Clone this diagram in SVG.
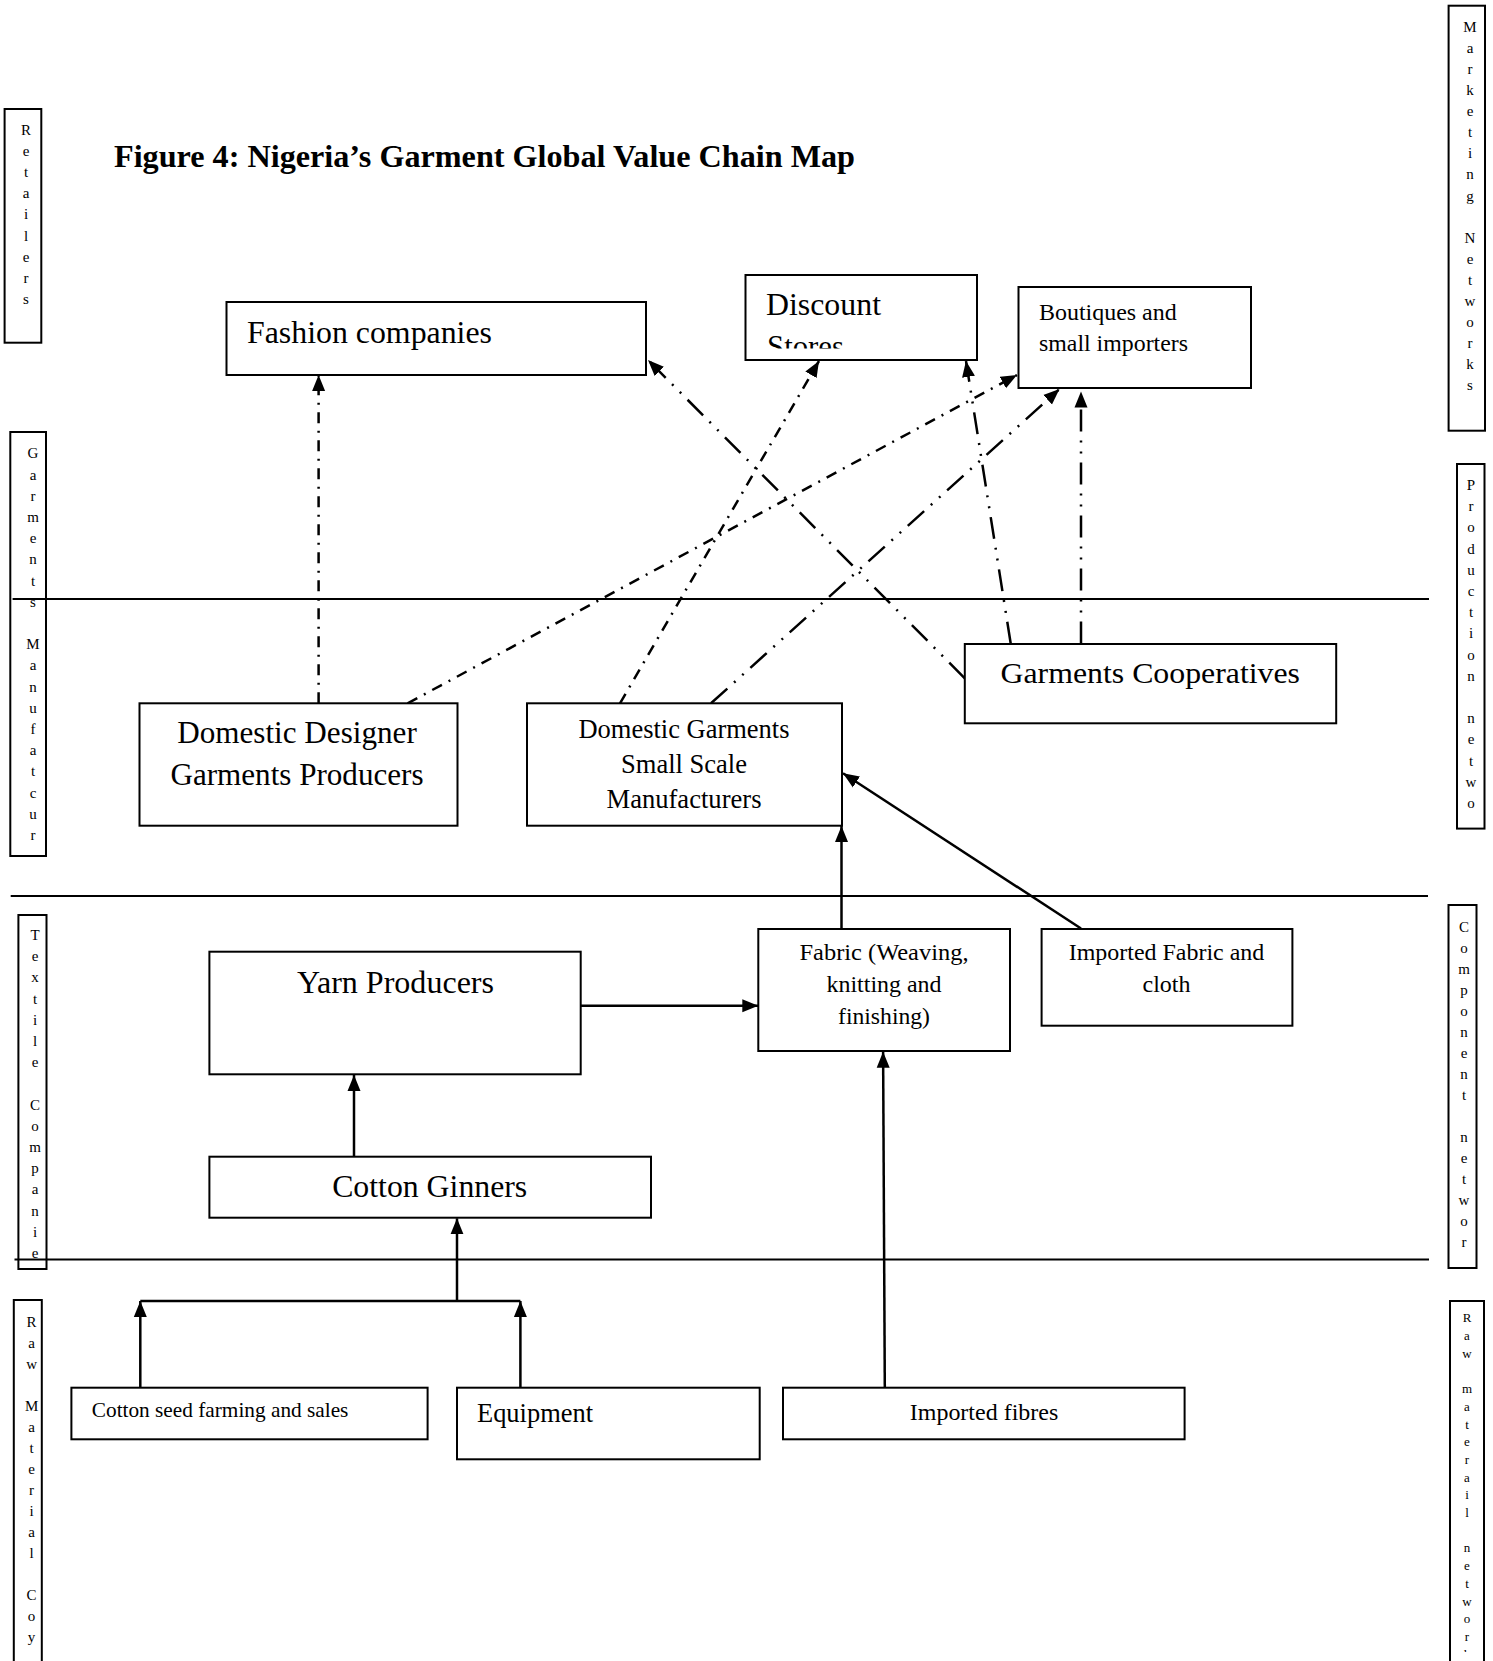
<svg xmlns="http://www.w3.org/2000/svg" width="1493" height="1661" viewBox="0 0 1493 1661">
<style>
text{font-family:"Liberation Serif","Times New Roman",serif;fill:#000}
.box{fill:#fff;stroke:#000;stroke-width:2}
.side{fill:none;stroke:#000;stroke-width:2}
.v{font-size:15px;text-anchor:middle}
.sep{stroke:#000;stroke-width:1.8;fill:none}
.solid{stroke:#000;stroke-width:2.5;fill:none;marker-end:url(#ah)}
.plain{stroke:#000;stroke-width:2.5;fill:none}
.da{stroke:#000;stroke-width:2.5;fill:none;stroke-dasharray:11 7.5 2 7.5;marker-end:url(#ah)}
.ddd{stroke:#000;stroke-width:2.5;fill:none;stroke-dasharray:22 9 2 9 2 9;marker-end:url(#ah)}
.c{text-anchor:middle}
</style>
<defs>
<marker id="ah" markerUnits="userSpaceOnUse" markerWidth="17" markerHeight="15" viewBox="0 0 17 15" refX="16" refY="7.5" orient="auto">
<path d="M0,1 L16,7.5 L0,14 z" fill="#000"/>
</marker>
<clipPath id="clipDiscount"><rect x="746" y="276" width="230" height="72.5"/></clipPath>
<clipPath id="clipRawNet"><rect x="1440" y="1300" width="60" height="352"/></clipPath>
</defs>
<rect x="0" y="0" width="1493" height="1661" fill="#fff"/>

<g id="title">
<text x="114" y="167" font-size="32" font-weight="bold" textLength="741" lengthAdjust="spacingAndGlyphs">Figure 4: Nigeria’s Garment Global Value Chain Map</text>
</g>

<g id="separators">
<line class="sep" x1="12.6" y1="599" x2="1429" y2="599"/>
<line class="sep" x1="10.7" y1="896" x2="1428" y2="896"/>
<line class="sep" x1="14.5" y1="1259.5" x2="1429" y2="1259.5"/>
</g>

<g id="label-retailers">
<rect class="side" x="4.6" y="109" width="36.7" height="233.7"/>
<text class="v"><tspan x="26" y="135">R</tspan><tspan x="26" dy="21.1">e</tspan><tspan x="26" dy="21.1">t</tspan><tspan x="26" dy="21.1">a</tspan><tspan x="26" dy="21.1">i</tspan><tspan x="26" dy="21.1">l</tspan><tspan x="26" dy="21.1">e</tspan><tspan x="26" dy="21.1">r</tspan><tspan x="26" dy="21.1">s</tspan></text>
</g>

<g id="label-garments-manufacturer">
<rect class="side" x="10.3" y="432" width="35.7" height="424"/>
<text class="v"><tspan x="33" y="458.3">G</tspan><tspan x="33" dy="21.2">a</tspan><tspan x="33" dy="21.2">r</tspan><tspan x="33" dy="21.2">m</tspan><tspan x="33" dy="21.2">e</tspan><tspan x="33" dy="21.2">n</tspan><tspan x="33" dy="21.2">t</tspan><tspan x="33" dy="21.2">s</tspan><tspan x="33" dy="42.4">M</tspan><tspan x="33" dy="21.2">a</tspan><tspan x="33" dy="21.2">n</tspan><tspan x="33" dy="21.2">u</tspan><tspan x="33" dy="21.2">f</tspan><tspan x="33" dy="21.2">a</tspan><tspan x="33" dy="21.2">t</tspan><tspan x="33" dy="21.2">c</tspan><tspan x="33" dy="21.2">u</tspan><tspan x="33" dy="21.2">r</tspan></text>
</g>

<g id="label-textile">
<rect class="side" x="18.4" y="915" width="28.1" height="354"/>
<text class="v"><tspan x="35" y="940">T</tspan><tspan x="35" dy="21.2">e</tspan><tspan x="35" dy="21.2">x</tspan><tspan x="35" dy="21.2">t</tspan><tspan x="35" dy="21.2">i</tspan><tspan x="35" dy="21.2">l</tspan><tspan x="35" dy="21.2">e</tspan><tspan x="35" dy="42.4">C</tspan><tspan x="35" dy="21.2">o</tspan><tspan x="35" dy="21.2">m</tspan><tspan x="35" dy="21.2">p</tspan><tspan x="35" dy="21.2">a</tspan><tspan x="35" dy="21.2">n</tspan><tspan x="35" dy="21.2">i</tspan><tspan x="35" dy="21.2">e</tspan></text>
</g>

<g id="label-raw-coy">
<rect class="side" x="13.8" y="1300" width="28" height="380"/>
<text class="v"><tspan x="31.6" y="1326.7">R</tspan><tspan x="31.6" dy="21">a</tspan><tspan x="31.6" dy="21">w</tspan><tspan x="31.6" dy="42">M</tspan><tspan x="31.6" dy="21">a</tspan><tspan x="31.6" dy="21">t</tspan><tspan x="31.6" dy="21">e</tspan><tspan x="31.6" dy="21">r</tspan><tspan x="31.6" dy="21">i</tspan><tspan x="31.6" dy="21">a</tspan><tspan x="31.6" dy="21">l</tspan><tspan x="31.6" dy="42">C</tspan><tspan x="31.6" dy="21">o</tspan><tspan x="31.6" dy="21">y</tspan></text>
</g>

<g id="label-marketing">
<rect class="side" x="1448.6" y="5.7" width="36.4" height="425"/>
<text class="v"><tspan x="1470" y="31.7">M</tspan><tspan x="1470" dy="21.1">a</tspan><tspan x="1470" dy="21.1">r</tspan><tspan x="1470" dy="21.1">k</tspan><tspan x="1470" dy="21.1">e</tspan><tspan x="1470" dy="21.1">t</tspan><tspan x="1470" dy="21.1">i</tspan><tspan x="1470" dy="21.1">n</tspan><tspan x="1470" dy="21.1">g</tspan><tspan x="1470" dy="42.2">N</tspan><tspan x="1470" dy="21.1">e</tspan><tspan x="1470" dy="21.1">t</tspan><tspan x="1470" dy="21.1">w</tspan><tspan x="1470" dy="21.1">o</tspan><tspan x="1470" dy="21.1">r</tspan><tspan x="1470" dy="21.1">k</tspan><tspan x="1470" dy="21.1">s</tspan></text>
</g>

<g id="label-production">
<rect class="side" x="1457" y="464" width="27.5" height="364.6"/>
<text class="v"><tspan x="1471" y="490">P</tspan><tspan x="1471" dy="21.2">r</tspan><tspan x="1471" dy="21.2">o</tspan><tspan x="1471" dy="21.2">d</tspan><tspan x="1471" dy="21.2">u</tspan><tspan x="1471" dy="21.2">c</tspan><tspan x="1471" dy="21.2">t</tspan><tspan x="1471" dy="21.2">i</tspan><tspan x="1471" dy="21.2">o</tspan><tspan x="1471" dy="21.2">n</tspan><tspan x="1471" dy="42.4">n</tspan><tspan x="1471" dy="21.2">e</tspan><tspan x="1471" dy="21.2">t</tspan><tspan x="1471" dy="21.2">w</tspan><tspan x="1471" dy="21.2">o</tspan></text>
</g>

<g id="label-component">
<rect class="side" x="1448.5" y="905" width="28" height="363"/>
<text class="v"><tspan x="1464" y="931.7">C</tspan><tspan x="1464" dy="21">o</tspan><tspan x="1464" dy="21">m</tspan><tspan x="1464" dy="21">p</tspan><tspan x="1464" dy="21">o</tspan><tspan x="1464" dy="21">n</tspan><tspan x="1464" dy="21">e</tspan><tspan x="1464" dy="21">n</tspan><tspan x="1464" dy="21">t</tspan><tspan x="1464" dy="42">n</tspan><tspan x="1464" dy="21">e</tspan><tspan x="1464" dy="21">t</tspan><tspan x="1464" dy="21">w</tspan><tspan x="1464" dy="21">o</tspan><tspan x="1464" dy="21">r</tspan></text>
</g>

<g id="label-raw-network">
<rect class="side" x="1450" y="1301" width="34" height="380"/>
<text class="v" style="font-size:13px" clip-path="url(#clipRawNet)"><tspan x="1467" y="1322.3">R</tspan><tspan x="1467" dy="17.7">a</tspan><tspan x="1467" dy="17.7">w</tspan><tspan x="1467" dy="35.4">m</tspan><tspan x="1467" dy="17.7">a</tspan><tspan x="1467" dy="17.7">t</tspan><tspan x="1467" dy="17.7">e</tspan><tspan x="1467" dy="17.7">r</tspan><tspan x="1467" dy="17.7">a</tspan><tspan x="1467" dy="17.7">i</tspan><tspan x="1467" dy="17.7">l</tspan><tspan x="1467" dy="35.4">n</tspan><tspan x="1467" dy="17.7">e</tspan><tspan x="1467" dy="17.7">t</tspan><tspan x="1467" dy="17.7">w</tspan><tspan x="1467" dy="17.7">o</tspan><tspan x="1467" dy="17.7">r</tspan><tspan x="1467" dy="17.7">k</tspan></text>
</g>

<g id="connectors">
<line class="da" x1="318.6" y1="703.3" x2="318.6" y2="375"/>
<line class="ddd" x1="964.8" y1="678.3" x2="648" y2="360"/>
<line class="da" x1="620" y1="703.3" x2="819" y2="361"/>
<line class="da" x1="407.6" y1="703.3" x2="1017" y2="375"/>
<line class="ddd" x1="711" y1="703.3" x2="1059.5" y2="389"/>
<line class="ddd" x1="1010.7" y1="643.5" x2="966" y2="361"/>
<line class="ddd" x1="1081" y1="643.5" x2="1081" y2="391.5"/>
<line class="solid" x1="841.5" y1="929" x2="841.5" y2="826"/>
<line class="solid" x1="1081" y1="928.5" x2="843" y2="773.3"/>
<line class="solid" x1="580.7" y1="1005.7" x2="758.3" y2="1005.7"/>
<line class="solid" x1="354" y1="1156.7" x2="354" y2="1075"/>
<line class="solid" x1="457" y1="1301" x2="457" y2="1218.3"/>
<line class="plain" x1="140.3" y1="1301" x2="520.4" y2="1301"/>
<line class="solid" x1="140.3" y1="1387.7" x2="140.3" y2="1301"/>
<line class="solid" x1="520.4" y1="1387.7" x2="520.4" y2="1301"/>
<line class="solid" x1="884.8" y1="1387.7" x2="883.1" y2="1051.7"/>
</g>

<g id="node-fashion">
<rect class="box" x="226.5" y="302" width="419.5" height="73"/>
<text x="247" y="342.5" font-size="31.5" textLength="245" lengthAdjust="spacingAndGlyphs">Fashion companies</text>
</g>

<g id="node-discount">
<rect class="box" x="745.5" y="275" width="231.5" height="85"/>
<g clip-path="url(#clipDiscount)">
<text x="766" y="315" font-size="31.5" textLength="115" lengthAdjust="spacingAndGlyphs">Discount</text>
<text x="767" y="357" font-size="31.5" textLength="77" lengthAdjust="spacingAndGlyphs">Stores</text>
</g>
</g>

<g id="node-boutiques">
<rect class="box" x="1018.5" y="287" width="232.5" height="101"/>
<text x="1039" y="320" font-size="24" textLength="137.7" lengthAdjust="spacingAndGlyphs">Boutiques and</text>
<text x="1039" y="350.7" font-size="24" textLength="149" lengthAdjust="spacingAndGlyphs">small importers</text>
</g>

<g id="node-designer">
<rect class="box" x="139.5" y="703.3" width="318" height="122.4"/>
<text class="c" x="297" y="742.7" font-size="31" textLength="239.5" lengthAdjust="spacingAndGlyphs">Domestic Designer</text>
<text class="c" x="297" y="785" font-size="31" textLength="253" lengthAdjust="spacingAndGlyphs">Garments Producers</text>
</g>

<g id="node-small-scale">
<rect class="box" x="527" y="703.3" width="315" height="122.4"/>
<text class="c" x="684" y="738.3" font-size="26.5" textLength="211" lengthAdjust="spacingAndGlyphs">Domestic Garments</text>
<text class="c" x="684" y="773.3" font-size="26.5" textLength="126" lengthAdjust="spacingAndGlyphs">Small Scale</text>
<text class="c" x="684" y="808.3" font-size="26.5" textLength="155" lengthAdjust="spacingAndGlyphs">Manufacturers</text>
</g>

<g id="node-cooperatives">
<rect class="box" x="964.8" y="644" width="371.4" height="79.3"/>
<text x="1000.5" y="683.3" font-size="30.3" textLength="299.5" lengthAdjust="spacingAndGlyphs">Garments Cooperatives</text>
</g>

<g id="node-yarn">
<rect class="box" x="209.4" y="951.7" width="371.3" height="122.6"/>
<text class="c" x="395.5" y="992.7" font-size="31.5" textLength="197" lengthAdjust="spacingAndGlyphs">Yarn Producers</text>
</g>

<g id="node-fabric">
<rect class="box" x="758.3" y="929" width="251.7" height="122"/>
<text class="c" x="884" y="960" font-size="24" textLength="169" lengthAdjust="spacingAndGlyphs">Fabric (Weaving,</text>
<text class="c" x="884" y="992.3" font-size="24" textLength="115" lengthAdjust="spacingAndGlyphs">knitting and</text>
<text class="c" x="884" y="1024" font-size="24" textLength="92" lengthAdjust="spacingAndGlyphs">finishing)</text>
</g>

<g id="node-imported-fabric">
<rect class="box" x="1041.6" y="929" width="250.8" height="96.7"/>
<text class="c" x="1166.5" y="960" font-size="24" textLength="195.5" lengthAdjust="spacingAndGlyphs">Imported Fabric and</text>
<text class="c" x="1166.5" y="992.3" font-size="24" textLength="48" lengthAdjust="spacingAndGlyphs">cloth</text>
</g>

<g id="node-ginners">
<rect class="box" x="209.4" y="1156.7" width="441.6" height="61"/>
<text class="c" x="429.7" y="1196.7" font-size="31.5" textLength="195" lengthAdjust="spacingAndGlyphs">Cotton Ginners</text>
</g>

<g id="node-cotton-seed">
<rect class="box" x="71.4" y="1387.7" width="356.2" height="51.6"/>
<text x="91.8" y="1416.7" font-size="20.3" textLength="256.6" lengthAdjust="spacingAndGlyphs">Cotton seed farming and sales</text>
</g>

<g id="node-equipment">
<rect class="box" x="457" y="1387.7" width="302.7" height="71.6"/>
<text x="477" y="1421.7" font-size="26.3" textLength="116" lengthAdjust="spacingAndGlyphs">Equipment</text>
</g>

<g id="node-imported-fibres">
<rect class="box" x="783" y="1387.7" width="401.6" height="51.6"/>
<text class="c" x="984" y="1420" font-size="24" textLength="148.5" lengthAdjust="spacingAndGlyphs">Imported fibres</text>
</g>
</svg>
